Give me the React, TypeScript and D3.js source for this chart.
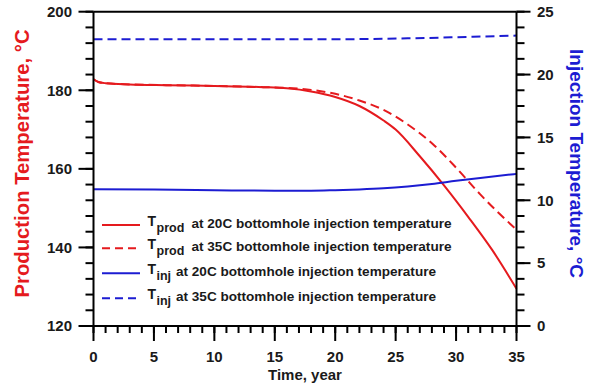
import React from "react";
import * as d3 from "d3";

// Time (years) and production temperature (°C) for 20C bottomhole injection
const prod20Years = [0, 0.4, 1, 3, 6, 10, 14, 16, 18, 20, 22, 24, 25, 27, 29, 31, 33, 35];
const prod20Temp = [182.8, 182.1, 181.8, 181.5, 181.3, 181.1, 180.8, 180.5, 179.7, 178.3, 176, 172.3, 170, 163.2, 155.8, 147.8, 139.3, 129.5];

// Production temperature (°C) for 35C bottomhole injection
const prod35Years = [0, 0.4, 1, 3, 6, 10, 14, 16, 18, 20, 22, 24, 26, 28, 30, 32, 35];
const prod35Temp = [182.8, 182.1, 181.8, 181.5, 181.3, 181.1, 180.8, 180.6, 180.1, 179.1, 177.4, 175, 171.3, 166.5, 160.3, 153.5, 144.5];

// Injection temperature (°C) for 20C bottomhole injection
const inj20Years = [0, 5, 10, 15, 18, 20, 22, 24, 26, 28, 30, 32, 35];
const inj20Temp = [10.88, 10.85, 10.8, 10.76, 10.76, 10.8, 10.86, 10.95, 11.1, 11.3, 11.55, 11.78, 12.1];

// Injection temperature (°C) for 35C bottomhole injection
const inj35Years = [0, 10, 20, 22, 26, 30, 35];
const inj35Temp = [22.8, 22.8, 22.8, 22.82, 22.88, 22.97, 23.1];

const xTicks = [0, 5, 10, 15, 20, 25, 30, 35];
const leftTicks = [120, 140, 160, 180, 200];
const rightTicks = [0, 5, 10, 15, 20, 25];

const legendSubs = ["prod", "prod", "inj", "inj"];
const legendRest = [
  "at 20C bottomhole injection temperature",
  "at 35C bottomhole injection temperature",
  "at 20C bottomhole injection temperature",
  "at 35C bottomhole injection temperature",
];

const RED = "#e51a1e";
const BLUE = "#1c1cd2";
const FONT = "'Liberation Sans', Arial, Helvetica, sans-serif";

export default function App() {
  const W = 595;
  const H = 385;
  const left = 93.5;
  const right = 516.5;
  const top = 11.7;
  const bottom = 326;

  const x = d3.scaleLinear().domain([0, 35]).range([left, right]);
  const yL = d3.scaleLinear().domain([120, 200]).range([bottom, top]);
  const yR = d3.scaleLinear().domain([0, 25]).range([bottom, top]);

  const lineL = (xs: number[], ys: number[]) =>
    d3
      .line<number>()
      .x((_, i) => x(xs[i]))
      .y((d) => yL(d))
      .curve(d3.curveMonotoneX)(ys) || "";
  const lineR = (xs: number[], ys: number[]) =>
    d3
      .line<number>()
      .x((_, i) => x(xs[i]))
      .y((d) => yR(d))
      .curve(d3.curveMonotoneX)(ys) || "";

  const xMinor = d3.range(0, 35.001, 1);
  const lMinor = d3.range(120, 200.001, 4);
  const rMinor = d3.range(0, 25.001, 1.25);

  const series = [
    { d: lineL(prod20Years, prod20Temp), color: RED, dash: undefined },
    { d: lineL(prod35Years, prod35Temp), color: RED, dash: "9 5" },
    { d: lineR(inj20Years, inj20Temp), color: BLUE, dash: undefined },
    { d: lineR(inj35Years, inj35Temp), color: BLUE, dash: "9 5" },
  ];

  const legendY = [225, 248.3, 273.3, 298.3];
  const restX = [191.5, 191.5, 176, 176];

  return (
    <svg
      width={W}
      height={H}
      style={{ position: "absolute", left: 0, top: 0, background: "#fff" }}
      fontFamily={FONT}
      fontWeight="bold"
    >
      {/* data lines */}
      <g fill="none" strokeWidth={2}>
        {series.map((s, i) => (
          <path key={i} d={s.d} stroke={s.color} strokeDasharray={s.dash} />
        ))}
      </g>

      {/* frame */}
      <g stroke="#000" strokeWidth={2} fill="none">
        <line x1={left} x2={left} y1={top} y2={bottom} />
        <line x1={right} x2={right} y1={top} y2={bottom} />
        <line x1={left} x2={right} y1={top} y2={top} />
        <line x1={left} x2={right} y1={bottom} y2={bottom} />
      </g>

      {/* ticks */}
      <g stroke="#000" strokeWidth={2}>
        {xMinor.map((t) => (
          <line key={"xm" + t} x1={x(t)} x2={x(t)} y1={bottom} y2={bottom + 7} />
        ))}
        {xTicks.map((t) => (
          <line key={"xM" + t} x1={x(t)} x2={x(t)} y1={bottom} y2={bottom + 15} />
        ))}
        {lMinor.map((t) => (
          <line key={"lm" + t} x1={left - 8} x2={left} y1={yL(t)} y2={yL(t)} />
        ))}
        {leftTicks.map((t) => (
          <line key={"lM" + t} x1={left - 15} x2={left} y1={yL(t)} y2={yL(t)} />
        ))}
        {rMinor.map((t) => (
          <line key={"rm" + t} x1={right} x2={right + 8} y1={yR(t)} y2={yR(t)} />
        ))}
        {rightTicks.map((t) => (
          <line key={"rM" + t} x1={right} x2={right + 14} y1={yR(t)} y2={yR(t)} />
        ))}
      </g>

      {/* tick labels */}
      <g fontSize={15} fill="#1a1a1a">
        {xTicks.map((t) => (
          <text key={"xl" + t} x={x(t)} y={362} textAnchor="middle">
            {t}
          </text>
        ))}
        {leftTicks.map((t) => (
          <text key={"ll" + t} x={72} y={yL(t) + 5.3} textAnchor="end">
            {t}
          </text>
        ))}
        {rightTicks.map((t) => (
          <text key={"rl" + t} x={537} y={yR(t) + 5.3} textAnchor="start">
            {t}
          </text>
        ))}
      </g>

      {/* axis titles */}
      <text x={x(17.5)} y={379.5} fontSize={15} textAnchor="middle" fill="#1a1a1a">
        Time, year
      </text>
      <text
        transform={`translate(29,163.5) rotate(-90)`}
        fontSize={20.3}
        textAnchor="middle"
        fill={RED}
      >
        Production Temperature, °C
      </text>
      <text
        transform={`translate(570,163.5) rotate(90)`}
        fontSize={19}
        textAnchor="middle"
        fill={BLUE}
      >
        Injection Temperature, °C
      </text>

      {/* legend */}
      <g fill="#1a1a1a">
        {series.map((s, i) => (
          <g key={"lg" + i}>
            <line
              x1={102}
              x2={140}
              y1={legendY[i]}
              y2={legendY[i]}
              stroke={s.color}
              strokeWidth={2}
              strokeDasharray={s.dash ? "8 5" : undefined}
            />
            <text x={147.5} y={legendY[i] + 0.5} fontSize={14}>
              T
            </text>
            <text x={156.5} y={legendY[i] + 7} fontSize={12.5}>
              {legendSubs[i]}
            </text>
            <text
              x={restX[i]}
              y={legendY[i] + 2.5}
              fontSize={13.5}
              textLength={260}
              lengthAdjust="spacingAndGlyphs"
            >
              {legendRest[i]}
            </text>
          </g>
        ))}
      </g>
    </svg>
  );
}
